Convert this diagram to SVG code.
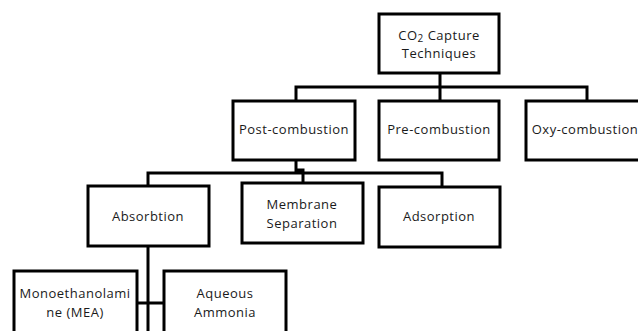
<svg xmlns="http://www.w3.org/2000/svg" width="638" height="331" viewBox="0 0 638 331">
<style>
.box{fill:#fff;stroke:#000;stroke-width:3}
.ln{fill:none;stroke:#000;stroke-width:3}
text{font-family:"Open Sans","Liberation Sans",sans-serif;font-size:13px;letter-spacing:0.5px;fill:#1a1a1a;text-anchor:middle;dominant-baseline:central}
</style>
<rect width="638" height="331" fill="#fff"/>
<g id="connectors">
<path class="ln" d="M440,73 V101 M296,101 V87 H587 V101"/>
<path class="ln" d="M296,160 V170 H303 V183 M148,186 V173 H442 V187"/>
<path class="ln" d="M148,246 V331 M137,303 H164"/>
</g>
<g id="n-root"><rect class="box" x="379" y="14" width="120" height="59"/><text x="439" y="35">CO<tspan font-size="10" dy="3">2</tspan><tspan dy="-3"> Capture</tspan></text><text x="439" y="53">Techniques</text></g>
<g id="n-post"><rect class="box" x="233" y="101" width="122" height="59"/><text x="294" y="129">Post-combustion</text></g>
<g id="n-pre"><rect class="box" x="379" y="101" width="120" height="59"/><text x="439" y="129">Pre-combustion</text></g>
<g id="n-oxy"><rect class="box" x="526" y="101" width="124" height="59"/><text x="585" y="129">Oxy-combustion</text></g>
<g id="n-absorb"><rect class="box" x="88" y="186" width="121" height="60"/><text x="148" y="216">Absorbtion</text></g>
<g id="n-membrane"><rect class="box" x="242" y="183" width="121" height="60"/><text x="302" y="204">Membrane</text><text x="302" y="223">Separation</text></g>
<g id="n-adsorb"><rect class="box" x="379" y="187" width="121" height="60"/><text x="439" y="216">Adsorption</text></g>
<g id="n-mea"><rect class="box" x="14" y="271" width="123" height="70"/><text x="75" y="293">Monoethanolami</text><text x="75" y="312">ne (MEA)</text></g>
<g id="n-aq"><rect class="box" x="164" y="271" width="122" height="70"/><text x="225" y="293">Aqueous</text><text x="225" y="312">Ammonia</text></g>
</svg>
